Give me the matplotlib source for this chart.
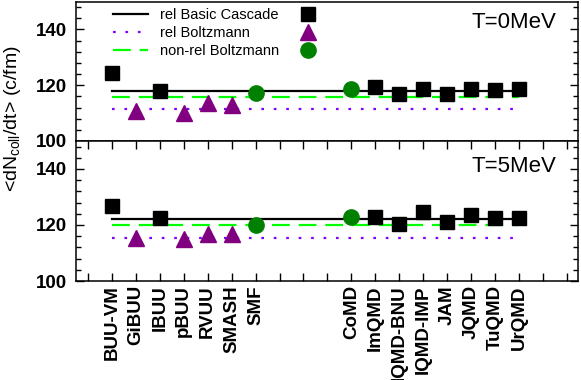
import numpy as np
import matplotlib
matplotlib.use("Agg")
import matplotlib.pyplot as plt
from matplotlib.ticker import MultipleLocator
from matplotlib.lines import Line2D

plt.rcParams['font.family'] = ['Liberation Sans', 'DejaVu Sans']
plt.rcParams['mathtext.fontset'] = 'custom'
plt.rcParams['mathtext.rm'] = 'Liberation Sans'

# models and their slot on the x axis (gap between BUU and QMD families)
models = ['BUU-VM', 'GiBUU', 'IBUU', 'pBUU', 'RVUU', 'SMASH', 'SMF',
          'CoMD', 'ImQMD', 'IQMD-BNU', 'IQMD-IMP', 'JAM', 'JQMD', 'TuQMD', 'UrQMD']
xpos = [1, 2, 3, 4, 5, 6, 7, 11, 12, 13, 14, 15, 16, 17, 18]
kind = ['sq', 'tri', 'sq', 'tri', 'tri', 'tri', 'circ',
        'circ', 'sq', 'sq', 'sq', 'sq', 'sq', 'sq', 'sq']

rate_T0 = [124.2, 110.7, 117.9, 110.1, 113.7, 112.9, 117.3,
           118.7, 119.3, 116.9, 118.5, 117.0, 118.5, 118.2, 118.5]
rate_T5 = [126.8, 115.5, 122.4, 114.9, 116.9, 116.9, 119.9,
           122.9, 122.9, 120.2, 124.6, 121.1, 123.6, 122.4, 122.4]

# reference values: rel basic cascade, rel Boltzmann, non-rel Boltzmann
ref_T0 = [118.0, 111.3, 115.7]
ref_T5 = [122.0, 115.2, 119.9]
ref_span = [1, 18]

temps = ['T=0MeV', 'T=5MeV']

styles = {'sq': dict(marker='s', color='black', ms=9.5),
          'tri': dict(marker='^', color='#800080', ms=11),
          'circ': dict(marker='o', color='#008000', ms=11)}
line_styles = [dict(color='black', lw=1.6, ls='-'),
               dict(color='#8000ff', lw=1.6, ls=(0, (1.2, 4.4))),
               dict(color='#00ff00', lw=1.6, ls=(0, (8, 4)))]
line_labels = ['rel Basic Cascade', 'rel Boltzmann', 'non-rel Boltzmann']

fig = plt.figure(figsize=(5.81, 3.80), dpi=100)
ax1 = fig.add_axes([0.1308, 0.629, 0.8635, 0.367])
ax2 = fig.add_axes([0.1308, 0.2605, 0.8635, 0.3685])

for ax, rates, refs, tlab in [(ax1, rate_T0, ref_T0, temps[0]), (ax2, rate_T5, ref_T5, temps[1])]:
    handles = []
    for st, r, lab in zip(line_styles, refs, line_labels):
        h, = ax.plot(ref_span, [r, r], label=lab, dash_capstyle='butt', **st)
        handles.append(h)
    for x, y, k in zip(xpos, rates, kind):
        ax.plot([x], [y], ls='none', zorder=3, **styles[k])
    ax.set_xlim(-0.5, 20.45)
    ax.set_ylim(100, 150)
    ax.yaxis.set_major_locator(MultipleLocator(20))
    ax.yaxis.set_minor_locator(MultipleLocator(4))
    ax.set_xticks(np.arange(0, 21))
    ax.tick_params(axis='both', which='both', direction='in', right=True, width=1)
    ax.tick_params(axis='both', which='major', length=6)
    ax.tick_params(axis='y', which='minor', length=3.5)
    ax.tick_params(axis='y', which='major', pad=6.5, labelsize=13.5)
    for lbl in ax.get_yticklabels():
        lbl.set_fontweight('bold')
    for sp in ax.spines.values():
        sp.set_linewidth(1.1)
    if ax is ax1:
        ax.text(0.957, 0.852, tlab, transform=ax.transAxes, ha='right', va='center', fontsize=16)
        leg = ax.legend(handles=handles, loc='upper left', bbox_to_anchor=(0.048, 1.05),
                        frameon=False, fontsize=10.5, handlelength=2.4,
                        handletextpad=0.8, labelspacing=0.28)
        ax.add_artist(leg)
        mk = [Line2D([], [], ls='none', **styles[k]) for k in ['sq', 'tri', 'circ']]
        ax.legend(handles=mk, labels=['', '', ''], loc='upper left',
                  bbox_to_anchor=(0.422, 1.05), frameon=False, fontsize=10.5,
                  handlelength=1.0, handletextpad=0, labelspacing=0.28)
    else:
        ax.text(0.957, 0.818, tlab, transform=ax.transAxes, ha='right', va='center', fontsize=16)

ax1.tick_params(axis='x', which='both', bottom=False, top=False, labelbottom=False)
ax2.tick_params(axis='x', which='both', top=True, bottom=True)

xlabels = ['' for _ in range(21)]
for x, m in zip(xpos, models):
    xlabels[x] = m
ax2.set_xticklabels(xlabels, rotation=90, fontsize=13.5, fontweight='bold')
ax2.tick_params(axis='x', pad=3)

fig.text(0.021, 0.687, r'<dN$_\mathregular{coll}$/dt> (c/fm)', rotation=90,
         ha='center', va='center', fontsize=14)

fig.savefig('out.png', dpi=100)
